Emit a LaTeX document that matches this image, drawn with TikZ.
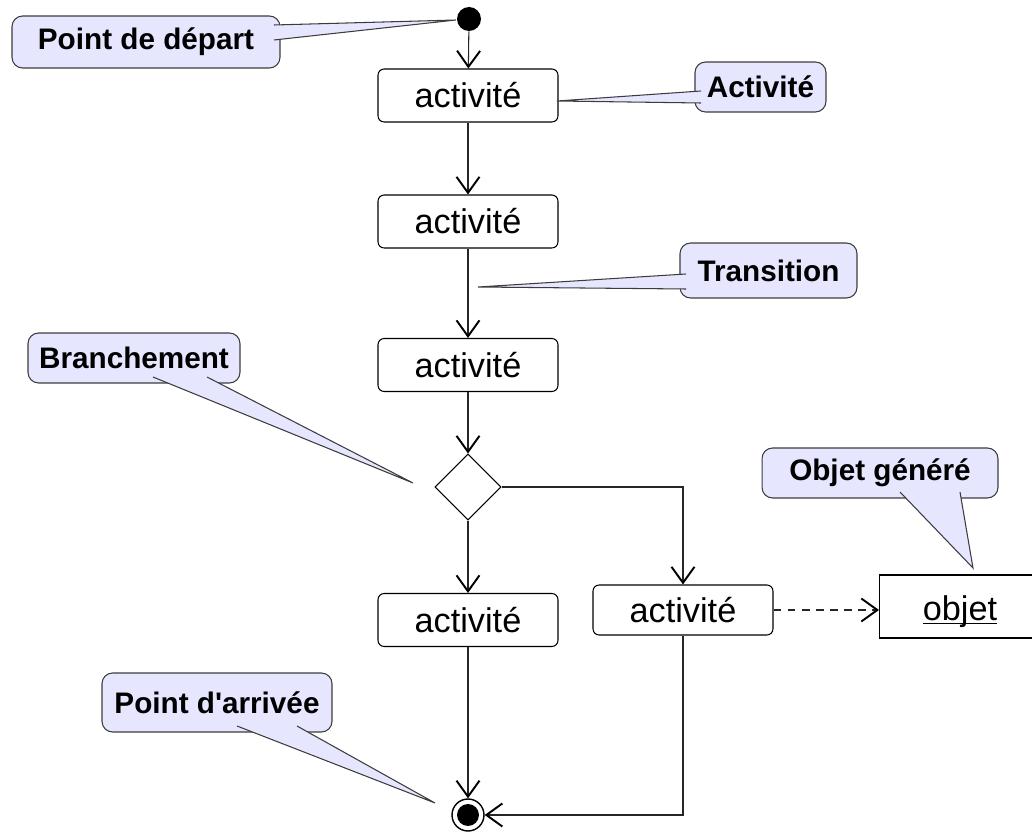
\documentclass[tikz,border=0pt]{standalone}
\usepackage{fontspec}
\setmainfont{Liberation Sans}[Ligatures=TeXOff]
\usepackage{tikz}
\usepackage{xcolor}
\usetikzlibrary{arrows.meta,positioning,calc,shapes.geometric}
\definecolor{noteFill}{RGB}{230,230,255}
\definecolor{noteLine}{RGB}{60,60,60}
\newcommand{\objline}[1]{\leavevmode\setbox0\hbox{#1}\rlap{\rule[-2.2pt]{\wd0}{0.9pt}}\box0}

\begin{document}
\begin{tikzpicture}[x=0.02cm, y=-0.02cm,
    activity/.style={rectangle, rounded corners=3.5pt, draw, line width=0.6pt, minimum width=3.6cm, minimum height=1.06cm, font=\fontsize{19.5}{23}\selectfont},
    note/.style={rectangle, rounded corners=6pt, draw=noteLine, fill=noteFill, line width=0.6pt, font=\fontsize{16.9}{20}\selectfont\bfseries},
    pointer/.style={fill=noteFill, draw=noteLine, line width=0.6pt},
    flow/.style={draw=black!85, line width=0.6pt, -{Straight Barb[length=3.2mm, width=4.6mm, line width=1.1pt, color=black]}}]
                    \useasboundingbox (0,0) rectangle (1032,834);
                    \clip (0,0) rectangle (1032,834);
                    % Start and end
                    \node[circle, fill, minimum size=0.48cm, inner sep=0pt] (start) at (469,19) {};
                    \node[circle, draw, line width=0.8pt, minimum size=0.64cm, inner sep=0pt] (fin) at (468,815) {};
                    \node[circle, fill, minimum size=0.44cm, inner sep=0pt] (finDot) at (fin) {};
                    
                    % Activities
                    \node[activity] (a1) at (468,95.5) {activité};
                    \node[activity] (a2) at (468,221.5) {activité};
                    \node[activity] (a3) at (468,365) {activité};
                    \node[diamond, draw, line width=0.6pt, minimum size=1.32cm, inner sep=0pt] (br) at (468,487) {};
                    \node[activity] (a4) at (468,620) {activité};
                    \node[activity, minimum height=1.0cm] (a5) at (683,610) {activité};
                    \node[rectangle, draw, line width=0.6pt, minimum width=3.22cm, minimum height=1.26cm, text height=20pt, text depth=4pt, font=\fontsize{19.5}{23}\selectfont] (obj) at (960,606.5) {\objline{objet}};
                    
                    % Transitions
                    \draw[flow] (start) -- (a1);
                    \draw[flow] (a1) -- (a2);
                    \draw[flow] (a2) -- (a3);
                    \draw[flow] (a3) -- (br);
                    \draw[flow] (br) -- (a4);
                    \draw[flow] (br.east) -| (a5.north);
                    \draw[flow] (a4) -- (fin);
                    \draw[flow] (a5.south) |- (fin.east);
                    \draw[flow, dashed, dash pattern=on 4.5pt off 3.5pt] (a5.east) -- (a5.east -| obj.west);
                    
                    % Notes
                    \node[note, minimum width=5.36cm, minimum height=1.04cm] (nDep) at (146,42) {Point de départ};
                    \node[note, minimum width=2.62cm, minimum height=1.0cm] (nAct) at (760.5,87) {Activité};
                    \node[note, minimum width=3.54cm, minimum height=1.1cm] (nTra) at (768.5,270.5) {Transition};
                    \node[note, minimum width=4.24cm, minimum height=1.0cm] (nBra) at (134,358) {Branchement};
                    \node[note, minimum width=4.72cm, minimum height=1.0cm] (nObj) at (880,473) {Objet généré};
                    \node[note, minimum width=4.6cm, minimum height=1.18cm] (nArr) at (217,702.5) {Point d'arrivée};
                    
                    % Pointers of the notes
                    \path[pointer] (274,25) -- (456,20) -- (274,40);
                    \path[pointer] (701,91) -- (557,101) -- (701,103);
                    \path[pointer] (686,274) -- (478,287) -- (686,289);
                    \path[pointer] (153,377) -- (413,483) -- (207,377);
                    \path[pointer] (900,492) -- (973,568) -- (960,492);
                    \path[pointer] (237,726) -- (435,803) -- (297,726);
                \end{tikzpicture}
\end{document}
